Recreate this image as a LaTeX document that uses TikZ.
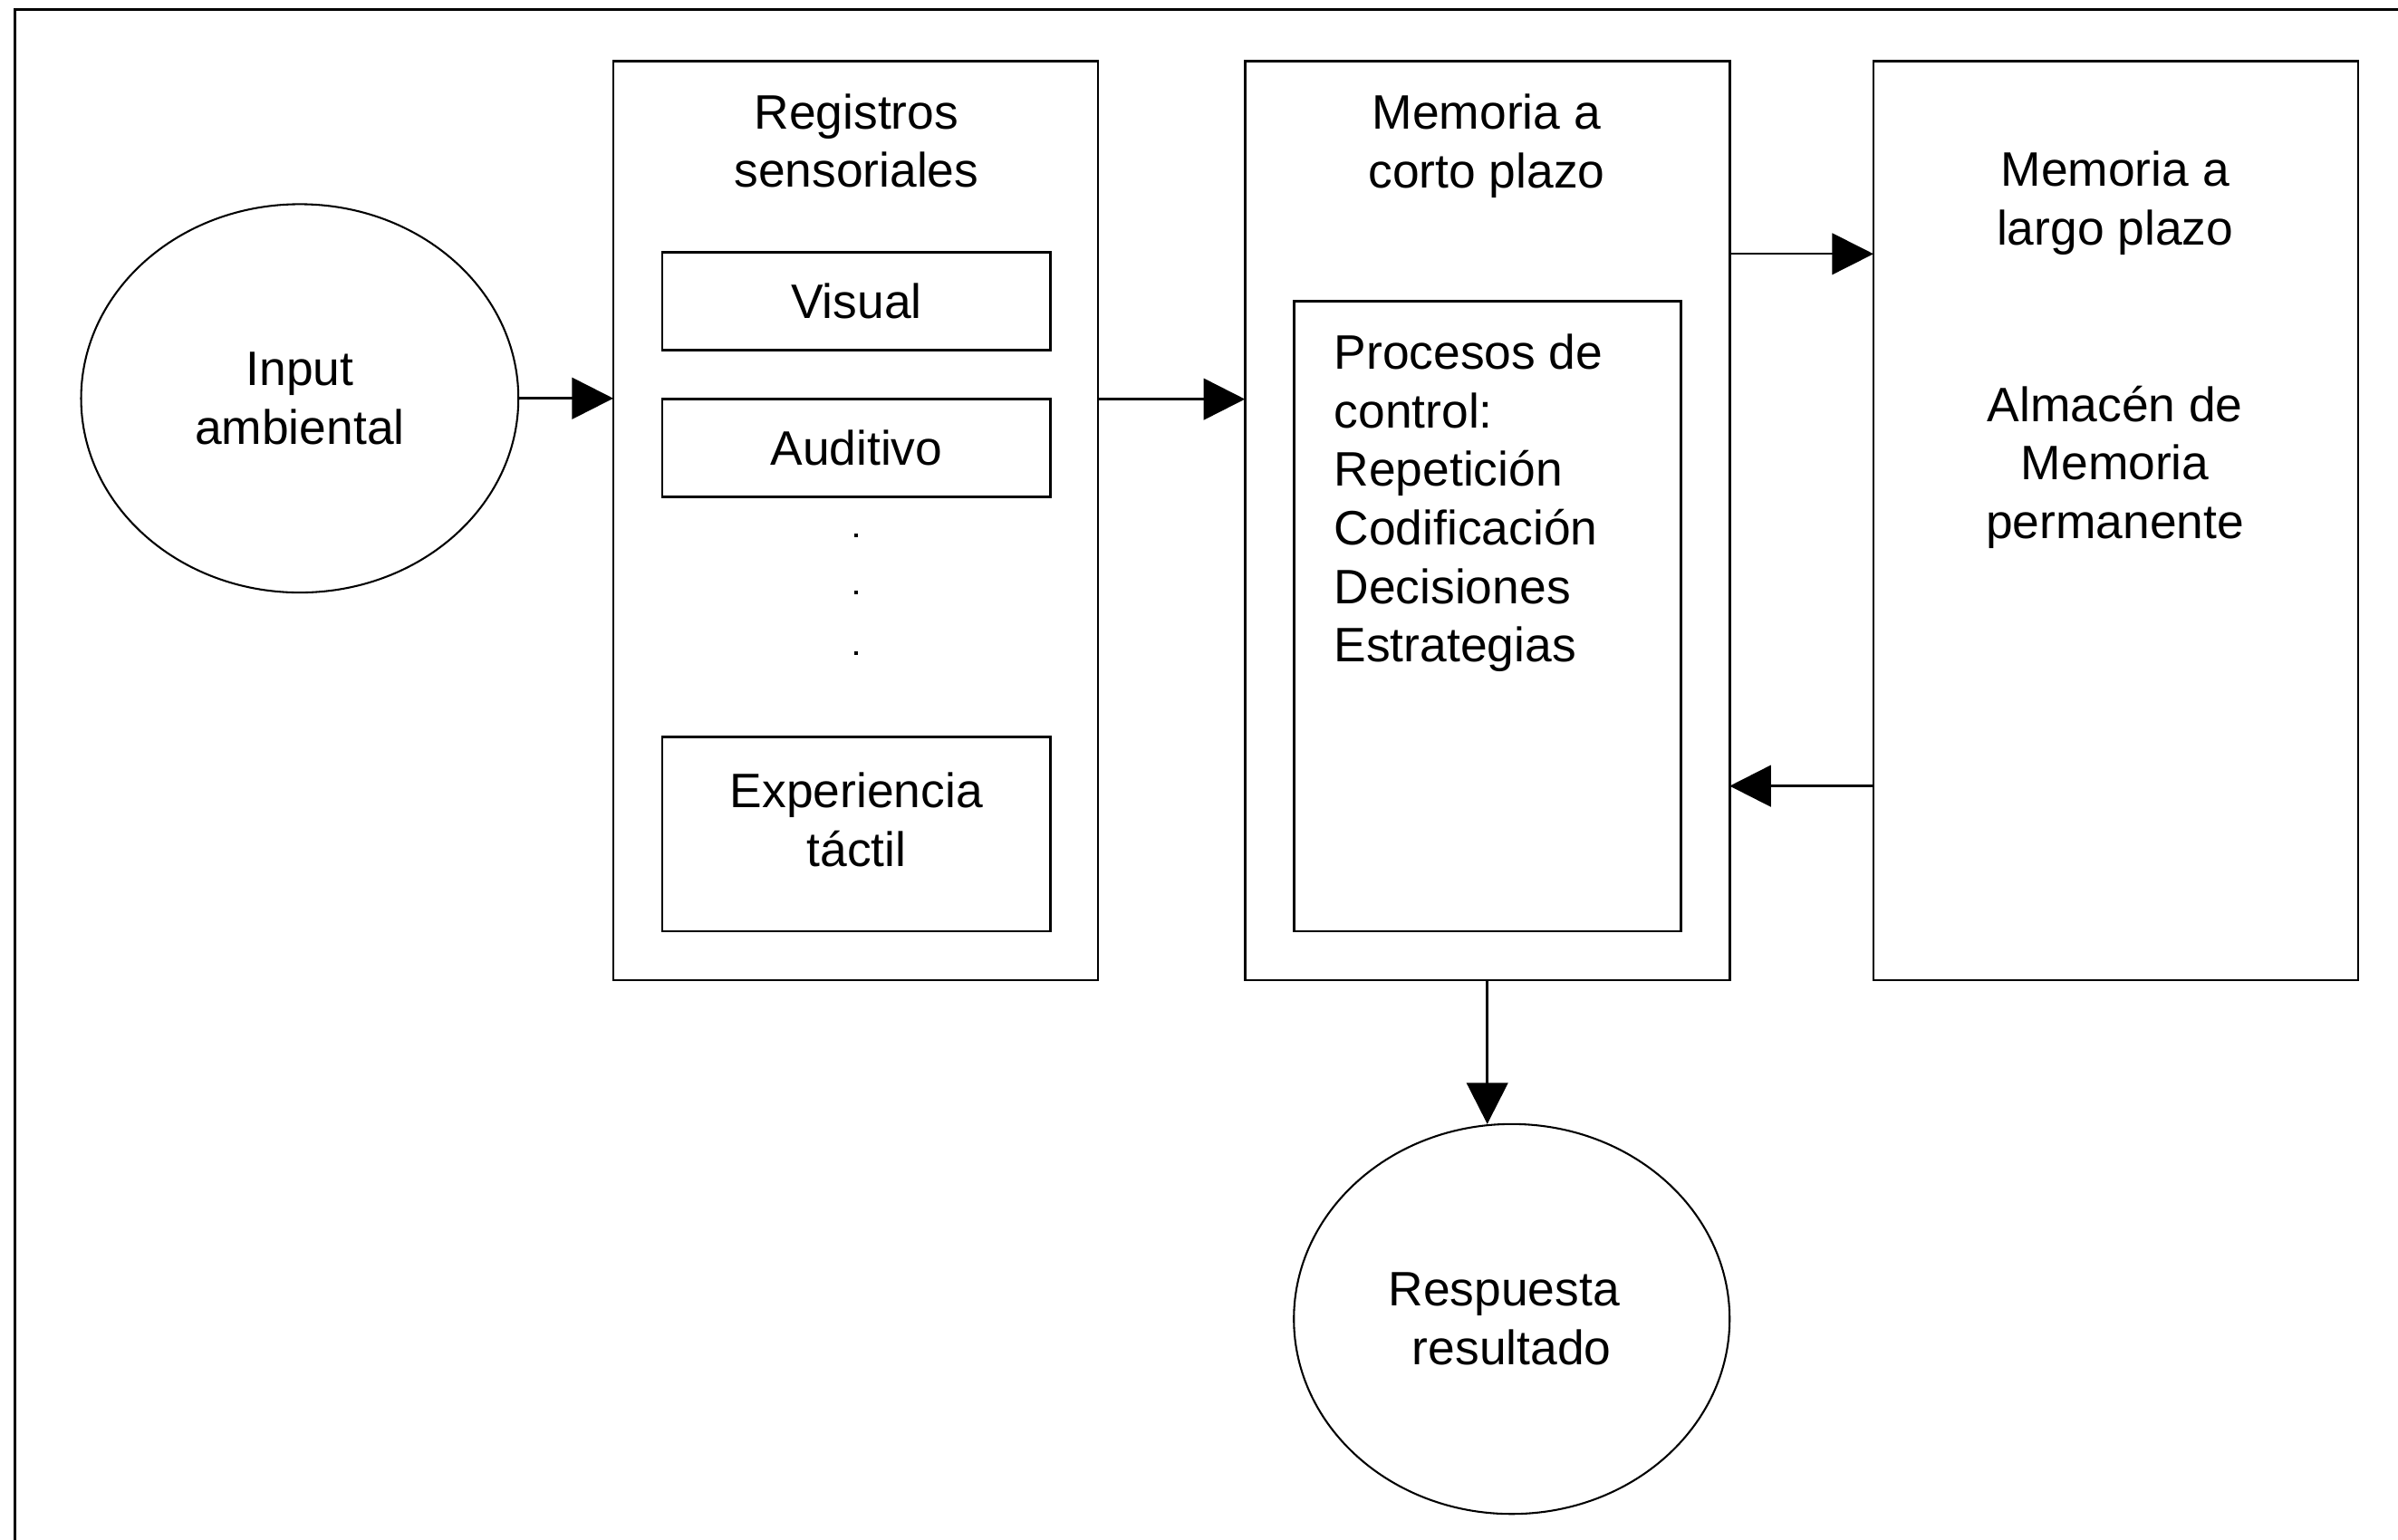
\documentclass[tikz,border=0pt]{standalone}
\usepackage{fontspec}
\setmainfont{Liberation Sans}
\usetikzlibrary{arrows.meta,shapes.geometric,calc}
\begin{document}
\begin{tikzpicture}[x=0.02cm,y=-0.02cm,
  box/.style={draw,line width=0.9pt,rectangle,inner sep=0pt,outer sep=0pt},
  oval/.style={draw,line width=0.7pt,ellipse,inner sep=0pt,outer sep=0pt,align=center,font=\fontsize{18}{21.8}\selectfont},
  lbl/.style={inner sep=0pt,align=center,font=\fontsize{18}{21.8}\selectfont},
  arr/.style={line width=0.9pt,-{Triangle[length=0.54cm,width=0.54cm]}},
  dotmark/.style={rectangle,fill=black,inner sep=0pt,minimum size=0.05cm}
]
\useasboundingbox (0,0) rectangle (1568,1007);
% outer frame (open at right and bottom)
\draw[line width=1pt] (10,1010) -- (10,6) -- (1570,6);

% main boxes
\node[box,minimum width=6.34cm,minimum height=12.02cm] (reg) at (559.5,340.5) {};
\node[box,minimum width=6.34cm,minimum height=12.02cm] (mcp) at (972.5,340.5) {};
\node[box,minimum width=6.34cm,minimum height=12.02cm] (lp) at (1383.5,340.5) {};

% inner boxes
\node[box,minimum width=5.08cm,minimum height=1.28cm,lbl] (vis) at (560,197) {Visual};
\node[box,minimum width=5.08cm,minimum height=1.28cm,lbl] (aud) at (560,293) {Auditivo};
\node[box,minimum width=5.08cm,minimum height=2.54cm] (exp) at (560,545.5) {};
\node[box,minimum width=5.06cm,minimum height=8.24cm] (proc) at (972.5,403) {};

% ellipses
\node[oval,minimum width=5.72cm,minimum height=5.08cm] (input) at (196,260.5) {Input\\ambiental};
\node[oval,minimum width=5.70cm,minimum height=5.10cm] (resp) at (988.5,862.5) {\hspace*{-0.2cm}Respuesta\\resultado};

% labels
\node[lbl] (regt) at (560,92) {Registros\\sensoriales};
\node[lbl] (mcpt) at (972,95.5) {Memoria a\\corto plazo};
\node[lbl] (lpt) at (1383,133) {Memoria a\\largo plazo};
\node[lbl] (almt) at (1383,305.5) {Almacén de\\Memoria\\permanente};
\node[lbl] (expt) at (560,536) {Experiencia\\táctil};
\node[lbl,align=left,anchor=west] (proct) at (872,329) {Procesos de\\control:\\Repetición\\Codificación\\Decisiones\\Estrategias};

% dots
\node[dotmark] (d1) at (560,350) {};
\node[dotmark] (d2) at (560,387.5) {};
\node[dotmark] (d3) at (560,427) {};

% connectors
\draw[arr] (input.east) -- (input.east -| reg.west);
\draw[arr] ([yshift=1.59cm]reg.east) coordinate (c1) -- (c1 -| mcp.west);
\draw[arr,line width=0.6pt] ([yshift=3.49cm]mcp.east) coordinate (c2) -- (c2 -| lp.west);
\draw[arr] ([yshift=-3.47cm]lp.west) coordinate (c3) -- (c3 -| mcp.east);
\draw[arr] (mcp.south) -- (mcp.south |- resp.north);
\end{tikzpicture}
\end{document}
